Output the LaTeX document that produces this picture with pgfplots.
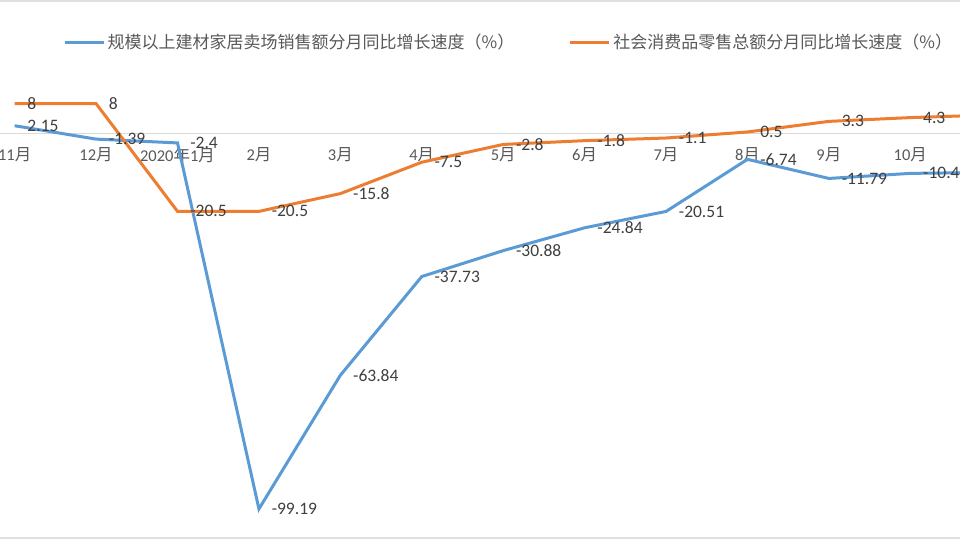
\documentclass[border=0pt]{standalone}
\usepackage{pgfplots}
\usepackage{pgfplotstable}
\pgfplotsset{compat=1.18}
\usepackage{fontspec}
\setmainfont{Carlito}
\newfontfamily\cjk{Noto Sans CJK SC}
\definecolor{sblue}{HTML}{5B9BD5}
\definecolor{sorange}{HTML}{ED7D31}
\definecolor{lblc}{HTML}{404040}
\definecolor{tickc}{HTML}{595959}
\newcommand{\yue}{{\cjk 月}}

\pgfplotstableread{
x blue blbl orange olbl
0 2.15 2.15 8 8
1 -1.39 -1.39 8 8
2 -2.4 -2.4 -20.5 -20.5
3 -99.19 -99.19 -20.5 -20.5
4 -63.84 -63.84 -15.8 -15.8
5 -37.73 -37.73 -7.5 -7.5
6 -30.88 -30.88 -2.8 -2.8
7 -24.84 -24.84 -1.8 -1.8
8 -20.51 -20.51 -1.1 -1.1
9 -6.74 -6.74 0.5 0.5
10 -11.79 -11.79 3.3 3.3
11 -10.45 -10.45 4.3 4.3
12 -10.2 -10.2 5.0 5.0
}\data

\begin{document}
\begin{tikzpicture}[x=1pt,y=1pt]
\path[use as bounding box] (0,0) rectangle (960,540);
\clip (0,0) rectangle (960,540);
\fill[white] (0,0) rectangle (960,540);
\begin{axis}[
  at={(0,0)}, anchor=south west,
  scale only axis, width=960pt, height=540pt,
  xmin=-0.18, xmax=11.61, ymin=-107.4, ymax=35.4,
  axis x line=middle, axis y line=none,
  x axis line style={draw=black!15, line width=1pt, -},
  xtick={0,...,12},
  xticklabels={11\yue,12\yue,2020{\cjk 年}1\yue,2\yue,3\yue,4\yue,5\yue,6\yue,7\yue,8\yue,9\yue,10\yue,11\yue},
  major tick length=0pt,
  xticklabel style={font=\fontsize{16.5}{16.5}\selectfont, text=tickc, yshift=-10pt},
  clip=false,
  nodes near coords={\pgfplotspointmeta},
  every node near coord/.append style={anchor=west, xshift=8pt, text=lblc, font=\fontsize{17.5}{17.5}\selectfont},
  legend columns=2,
  legend style={at={(63/960,0.922)}, anchor=west, draw=none, fill=none, inner sep=0pt,
    font=\cjk\fontsize{17}{17}\selectfont, text=tickc,
    /tikz/every even column/.append style={column sep=52pt},
    nodes={inner sep=2.5pt}},
  legend image code/.code={\draw[#1, line width=3pt] (0pt,0pt) -- (39pt,0pt);},
]
\addplot[sblue, line width=3pt, point meta=explicit symbolic] table[x=x, y=blue, meta=blbl] {\data};
\addlegendentry{规模以上建材家居卖场销售额分月同比增长速度（\%）}
\addplot[sorange, line width=3pt, point meta=explicit symbolic] table[x=x, y=orange, meta=olbl] {\data};
\addlegendentry{社会消费品零售总额分月同比增长速度（\%）}
\end{axis}
\draw[black!12, line width=2pt] (0,539) -- (960,539);
\draw[black!12, line width=2pt] (0,1.5) -- (960,1.5);
\end{tikzpicture}
\end{document}
